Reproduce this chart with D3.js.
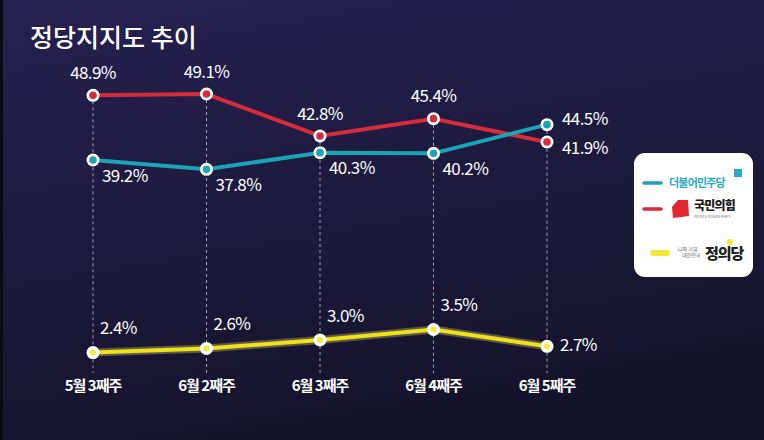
<!DOCTYPE html>
<html>
<head>
<meta charset="utf-8">
<script src="https://cdn.jsdelivr.net/npm/d3@7"></script>
<style>
  body { margin: 0; background: #1a1736; }
  svg { display: block; }
  text { font-family: "Noto Sans CJK KR", "Noto Sans", sans-serif; }
</style>
</head>
<body>
<div id="chart"></div>
<script>
// weeks on x axis
var weeks = ["5월 3째주", "6월 2째주", "6월 3째주", "6월 4째주", "6월 5째주"];

// support rates (%)
var minjoo = [39.2, 37.8, 40.3, 40.2, 44.5];
var ppp = [48.9, 49.1, 42.8, 45.4, 41.9];
var justice = [2.4, 2.6, 3.0, 3.5, 2.7];

const width = 764, height = 440;

const svg = d3.select("#chart")
    .append("svg")
    .attr("width", width)
    .attr("height", height);

// background gradient
const defs = svg.append("defs");
const grad = defs.append("linearGradient")
    .attr("id", "bg")
    .attr("x1", 0).attr("y1", 0).attr("x2", 0.3).attr("y2", 1);
grad.append("stop").attr("offset", "0%").attr("stop-color", "#262150");
grad.append("stop").attr("offset", "100%").attr("stop-color", "#15132c");

svg.append("rect")
    .attr("width", width).attr("height", height)
    .attr("fill", "url(#bg)");
svg.append("rect")
    .attr("width", 3).attr("height", height)
    .attr("fill", "#0a0a12");

// title
svg.append("text")
    .attr("x", 30).attr("y", 47)
    .attr("fill", "#ffffff")
    .attr("font-size", 25)
    .attr("font-weight", 500)
    .text("정당지지도 추이");

// x scale
const xScale = d3.scalePoint()
    .domain(weeks)
    .range([93, 547]);

// broken y axis: big parties on top, small party at bottom
const yTop = d3.scaleLinear()
    .domain([35, 50])
    .range([188, 88]);

const yBot = d3.scaleLinear()
    .domain([2, 4])
    .range([361, 319]);

const bottomY = 373;

// dashed guide lines
svg.selectAll(".guide")
    .data(weeks)
    .join("line")
    .attr("class", "guide")
    .attr("x1", d => xScale(d))
    .attr("x2", d => xScale(d))
    .attr("y1", (d, i) => yTop(Math.max(minjoo[i], ppp[i])))
    .attr("y2", bottomY)
    .attr("stroke", "#c9c7d8")
    .attr("stroke-width", 1)
    .attr("stroke-dasharray", "3,3")
    .attr("opacity", 0.8);

// x labels
svg.selectAll(".xlabel")
    .data(weeks)
    .join("text")
    .attr("class", "xlabel")
    .attr("x", d => xScale(d))
    .attr("y", 391)
    .attr("text-anchor", "middle")
    .attr("fill", "#ffffff")
    .attr("font-size", 15)
    .attr("font-weight", 700)
    .attr("letter-spacing", -1)
    .text(d => d);

const series = [
    {name: "ppp", values: ppp, y: yTop, color: "#d52c3b"},
    {name: "minjoo", values: minjoo, y: yTop, color: "#1ba3b6"},
    {name: "justice", values: justice, y: yBot, color: "#ede31c"}
];

series.forEach(s => {
    const line = d3.line()
        .x((d, i) => xScale(weeks[i]))
        .y(d => s.y(d));

    if (s.name == "justice") {
        svg.append("path")
            .datum(s.values)
            .attr("fill", "none")
            .attr("stroke", "#fff36a")
            .attr("stroke-width", 8)
            .attr("opacity", 0.3)
            .attr("d", line);
    }

    svg.append("path")
        .datum(s.values)
        .attr("fill", "none")
        .attr("stroke", s.color)
        .attr("stroke-width", 4)
        .attr("d", line);

    svg.selectAll(".pt-" + s.name)
        .data(s.values)
        .join("circle")
        .attr("cx", (d, i) => xScale(weeks[i]))
        .attr("cy", d => s.y(d))
        .attr("r", 6.5)
        .attr("fill", "#ffffff");

    svg.selectAll(".in-" + s.name)
        .data(s.values)
        .join("circle")
        .attr("cx", (d, i) => xScale(weeks[i]))
        .attr("cy", d => s.y(d))
        .attr("r", s.name == "justice" ? 3 : 3.8)
        .attr("fill", s.name == "justice" ? "#f3ea3a" : s.color);
});

// value labels
function label(x, y, txt, anchor) {
    svg.append("text")
        .attr("x", x).attr("y", y)
        .attr("text-anchor", anchor)
        .attr("dominant-baseline", "middle")
        .attr("fill", "#ffffff")
        .attr("font-size", 17)
        .attr("font-weight", 400)
        .attr("letter-spacing", -0.6)
        .text(txt);
}

const fmt = d => d.toFixed(1) + "%";
const last = weeks.length - 1;

ppp.forEach((d, i) => {
    const x = xScale(weeks[i]);
    if (i == last) label(x + 15, yTop(d) + 7, fmt(d), "start");
    else label(x, yTop(d) - 21, fmt(d), "middle");
});

minjoo.forEach((d, i) => {
    const x = xScale(weeks[i]);
    if (i == last) label(x + 15, yTop(d) - 4, fmt(d), "start");
    else label(x + 9, yTop(d) + 17, fmt(d), "start");
});

justice.forEach((d, i) => {
    const x = xScale(weeks[i]);
    if (i == last) label(x + 13, yBot(d), fmt(d), "start");
    else label(x + 7, yBot(d) - 23, fmt(d), "start");
});

// legend box
const lg = svg.append("g").attr("transform", "translate(634,153)");

lg.append("rect")
    .attr("width", 119).attr("height", 124)
    .attr("rx", 11)
    .attr("fill", "#ffffff");

// 더불어민주당
lg.append("line")
    .attr("x1", 10).attr("x2", 27).attr("y1", 30).attr("y2", 30)
    .attr("stroke", "#1ba3b6").attr("stroke-width", 3.5).attr("stroke-linecap", "round");
lg.append("text")
    .attr("x", 35).attr("y", 34)
    .attr("fill", "#2aa8c4")
    .attr("font-size", 11).attr("font-weight", 700)
    .attr("letter-spacing", -0.8)
    .text("더불어민주당");
lg.append("rect")
    .attr("x", 100).attr("y", 16).attr("width", 8).attr("height", 8)
    .attr("fill", "#2aa8c4");

// 국민의힘
lg.append("line")
    .attr("x1", 10).attr("x2", 27).attr("y1", 56).attr("y2", 56)
    .attr("stroke", "#d52c3b").attr("stroke-width", 3.5).attr("stroke-linecap", "round");
lg.append("path")
    .attr("d", "M44,47 L54,47 L55,63 L39,65 L38,54 Z")
    .attr("fill", "#e3262f");
lg.append("text")
    .attr("x", 60).attr("y", 57)
    .attr("fill", "#1a1a1a")
    .attr("font-size", 12).attr("font-weight", 800)
    .attr("letter-spacing", -0.8)
    .text("국민의힘");
lg.append("text")
    .attr("x", 60).attr("y", 65)
    .attr("fill", "#777")
    .attr("font-size", 3.5)
    .text("PEOPLE POWER PARTY");

// 정의당
lg.append("rect")
    .attr("x", 16).attr("y", 97).attr("width", 20).attr("height", 6)
    .attr("rx", 3)
    .attr("fill", "#f2e63a");
lg.append("text")
    .attr("x", 44).attr("y", 98)
    .attr("fill", "#555")
    .attr("font-size", 5)
    .text("나의 기회");
lg.append("text")
    .attr("x", 48).attr("y", 104)
    .attr("fill", "#555")
    .attr("font-size", 5)
    .text("대한민국");
lg.append("text")
    .attr("x", 71).attr("y", 106)
    .attr("fill", "#222")
    .attr("font-size", 15).attr("font-weight", 800)
    .attr("letter-spacing", -1)
    .text("정의당");
lg.append("circle")
    .attr("cx", 96).attr("cy", 89).attr("r", 3)
    .attr("fill", "#f2e63a");
</script>
</body>
</html>
